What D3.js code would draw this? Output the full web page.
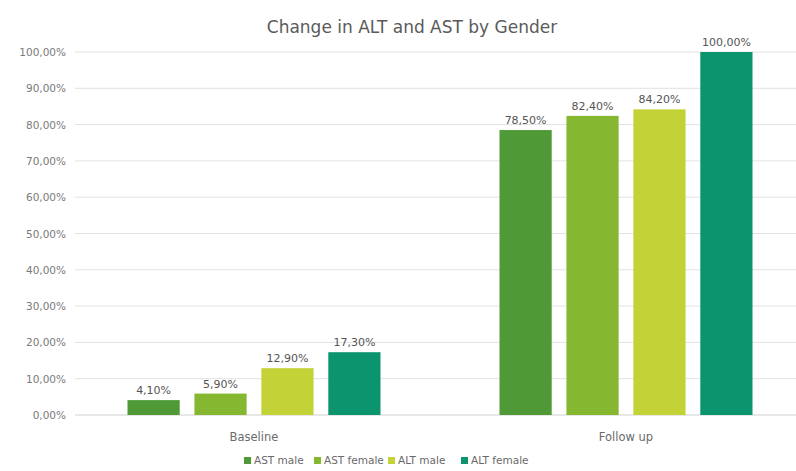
<!DOCTYPE html>
<html>
<head>
<meta charset="utf-8">
<script src="https://cdn.jsdelivr.net/npm/d3@7"></script>
<style>
  body { margin: 0; background: #fff; }
  text { font-family: "DejaVu Sans", sans-serif; }
</style>
</head>
<body>
<svg id="chart"></svg>
<script>
// data
const categories = ["Baseline", "Follow up"];
const seriesNames = ["AST male", "AST female", "ALT male", "ALT female"];
const seriesColors = ["#4f9a36", "#86b731", "#c3d236", "#0c946f"];
const astMale = [4.10, 78.50];
const astFemale = [5.90, 82.40];
const altMale = [12.90, 84.20];
const altFemale = [17.30, 100.00];
const yTicks = [0, 10, 20, 30, 40, 50, 60, 70, 80, 90, 100];

const seriesValues = [astMale, astFemale, altMale, altFemale];

const width = 796, height = 471;
const svg = d3.select("#chart")
    .attr("width", width)
    .attr("height", height);

const margins = { top: 52, bottom: 56, left: 68, right: -16 };

const fmt = v => v.toFixed(2).replace(".", ",") + "%";

const yScale = d3.scaleLinear()
    .domain([0, 100])
    .range([height - margins.bottom, margins.top]);

const xScale = d3.scaleBand()
    .domain(categories)
    .range([margins.left, width - margins.right]);

// bars inside one category
const xInner = d3.scaleBand()
    .domain(seriesNames)
    .range([59.5, xScale.bandwidth() - 59.5])
    .paddingInner(0.22);

// gridlines
svg.append("g")
    .selectAll("line")
    .data(yTicks.slice(1))
    .join("line")
    .attr("x1", 75)
    .attr("x2", width)
    .attr("y1", d => yScale(d))
    .attr("y2", d => yScale(d))
    .attr("stroke", "#e2e2e2")
    .attr("stroke-width", 1);

// y labels
svg.append("g")
    .selectAll("text")
    .data(yTicks)
    .join("text")
    .attr("x", 66)
    .attr("y", d => yScale(d) + 4)
    .attr("text-anchor", "end")
    .attr("font-size", 10.5)
    .attr("fill", "#7a7a7a")
    .text(d => fmt(d));

// baseline axis
svg.append("line")
    .attr("x1", 75)
    .attr("x2", width)
    .attr("y1", yScale(0))
    .attr("y2", yScale(0))
    .attr("stroke", "#d0d0d0");

// bars
const groups = svg.append("g")
    .selectAll("g")
    .data(seriesNames)
    .join("g")
    .attr("fill", (d, i) => seriesColors[i]);

groups.selectAll("rect")
    .data((s, si) => categories.map((c, ci) => ({ s, c, v: seriesValues[si][ci] })))
    .join("rect")
    .attr("x", d => xScale(d.c) + xInner(d.s))
    .attr("width", xInner.bandwidth())
    .attr("y", d => yScale(d.v))
    .attr("height", d => yScale(0) - yScale(d.v));

// data labels
groups.selectAll("text")
    .data((s, si) => categories.map((c, ci) => ({ s, c, v: seriesValues[si][ci] })))
    .join("text")
    .attr("x", d => xScale(d.c) + xInner(d.s) + xInner.bandwidth() / 2)
    .attr("y", d => yScale(d.v) - 6)
    .attr("text-anchor", "middle")
    .attr("font-size", 11)
    .attr("fill", "#555")
    .text(d => fmt(d.v));

// category labels
svg.append("g")
    .selectAll("text")
    .data(categories)
    .join("text")
    .attr("x", d => xScale(d) + xScale.bandwidth() / 2)
    .attr("y", yScale(0) + 26)
    .attr("text-anchor", "middle")
    .attr("font-size", 11.5)
    .attr("fill", "#6a6a6a")
    .text(d => d);

// title
svg.append("text")
    .attr("x", 412)
    .attr("y", 33)
    .attr("text-anchor", "middle")
    .attr("font-size", 17)
    .attr("fill", "#5a5a5a")
    .text("Change in ALT and AST by Gender");

// legend
const legendX = [244, 314, 388, 461];
const legend = svg.append("g")
    .selectAll("g")
    .data(seriesNames)
    .join("g")
    .attr("transform", (d, i) => `translate(${legendX[i]}, 457)`);

legend.append("rect")
    .attr("width", 7)
    .attr("height", 7)
    .attr("fill", (d, i) => seriesColors[i]);

legend.append("text")
    .attr("x", 10)
    .attr("y", 7)
    .attr("font-size", 10.5)
    .attr("fill", "#6a6a6a")
    .text(d => d);
</script>
</body>
</html>
